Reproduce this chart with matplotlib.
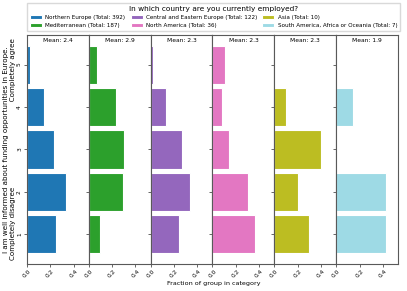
import matplotlib
matplotlib.use("Agg")
import matplotlib.pyplot as plt
import numpy as np

# answer categories 1 (completely disagree) .. 5 (completely agree)
levels = [1, 2, 3, 4, 5]
regions = ["Northern Europe", "Mediterranean", "Central and Eastern Europe",
           "North America", "Asia", "South America, Africa or Oceania"]
# counts per answer level
counts = [
    [97, 133, 92, 58, 12],
    [18, 55, 57, 43, 14],
    [30, 41, 33, 16, 2],
    [13, 11, 5, 3, 4],
    [3, 2, 4, 1, 0],
    [3, 3, 0, 1, 0],
]
xticks = [0.0, 0.2, 0.4]
colors = plt.get_cmap("tab20")(np.linspace(0, 1, len(regions)))

fig, axes = plt.subplots(1, 6, figsize=(4.07, 2.91), dpi=100, sharey=True)
fig.subplots_adjust(left=0.066, right=0.978, top=0.88, bottom=0.093, wspace=0)

handles = []
for i, ax in enumerate(axes):
    c = np.array(counts[i], dtype=float)
    total = int(c.sum())
    frac = c / total
    mean = (np.array(levels) * c).sum() / total
    b = ax.barh(levels, frac, height=0.9, color=colors[i], edgecolor="white", linewidth=0.8,
                label=f"{regions[i]} (Total: {total})")
    handles.append(b)
    ax.set_xlim(0, 0.53)
    ax.set_ylim(0.3, 5.7)
    ax.set_xticks(xticks)
    ax.set_xticklabels([f"{t:.1f}" for t in xticks], rotation=45)
    ax.set_yticks(levels)
    ax.tick_params(labelsize=4.2, length=2, width=0.6, pad=1.5, color="0.3")
    for s in ax.spines.values():
        s.set_color("0.35")
        s.set_linewidth(0.8)
    ax.text(0.5, 0.985, f"Mean: {mean:.1f}", transform=ax.transAxes, ha="center", va="top", fontsize=4.3)

axes[0].set_yticklabels([str(l) for l in levels], rotation=90, va="center")
axes[0].set_ylabel("I am well informed about funding opportunities in Europe.\n"
                   "Completely disagree" + " " * 38 + "Completely agree",
                   fontsize=5.1, labelpad=0.5)
fig.text(0.524, 0.018, "Fraction of group in category", ha="center", va="bottom", fontsize=4.6)

fig.legend(handles=handles, ncol=3, loc="upper center",
           bbox_to_anchor=(0.525, 0.99), fontsize=4.1,
           title="In which country are you currently employed?", title_fontsize=5.3,
           handlelength=2.1, handleheight=0.7, borderpad=0.55, labelspacing=0.5,
           columnspacing=0.9, handletextpad=0.6, borderaxespad=0, fancybox=False,
           edgecolor="0.85", framealpha=1)

fig.savefig("out.png", dpi=100)
